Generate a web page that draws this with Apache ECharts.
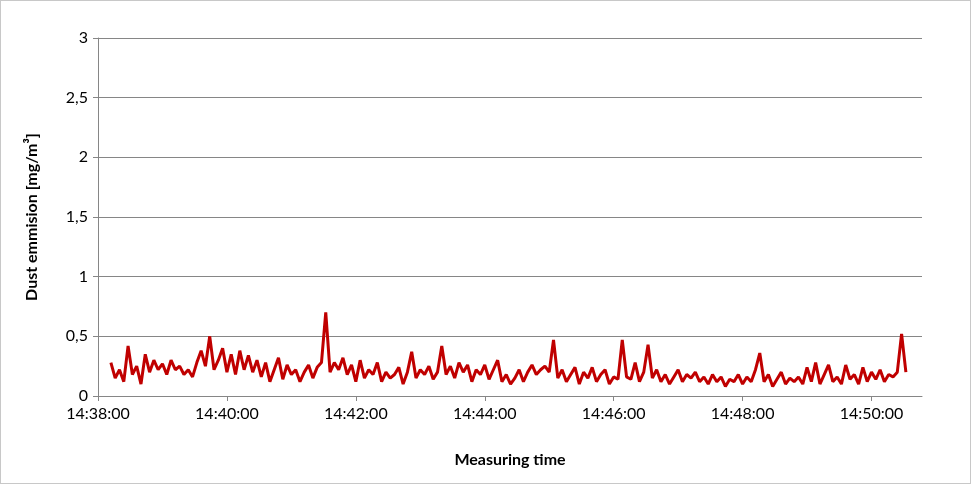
<!DOCTYPE html>
<html><head><meta charset="utf-8">
<script src="https://cdn.jsdelivr.net/npm/echarts@6/dist/echarts.min.js"></script>
<style>html,body{margin:0;padding:0;background:#fff}#c{width:971px;height:484px;box-sizing:border-box;border:1px solid #c8c8c8}</style>
</head><body><div id="c"></div>
<script>
const startSeconds = 12;      // first sample at 14:38:12
const stepSeconds = 4;
const dust = [
0.28,0.15,0.22,0.12,0.42,0.18,0.25,0.10,0.35,0.20,
0.30,0.22,0.27,0.18,0.30,0.22,0.25,0.18,0.22,0.16,
0.28,0.38,0.25,0.50,0.22,0.30,0.40,0.20,0.35,0.18,
0.38,0.22,0.34,0.20,0.30,0.16,0.28,0.12,0.22,0.32,
0.14,0.26,0.18,0.22,0.12,0.20,0.26,0.15,0.24,0.28,
0.70,0.20,0.28,0.22,0.32,0.18,0.26,0.12,0.30,0.15,
0.22,0.18,0.28,0.12,0.20,0.15,0.18,0.24,0.10,0.20,
0.37,0.15,0.22,0.18,0.25,0.14,0.20,0.42,0.18,0.25,
0.15,0.28,0.20,0.26,0.12,0.22,0.18,0.26,0.14,0.22,
0.30,0.12,0.18,0.10,0.15,0.22,0.12,0.20,0.26,0.18,
0.22,0.25,0.20,0.47,0.15,0.22,0.12,0.18,0.24,0.10,
0.20,0.15,0.24,0.12,0.18,0.22,0.10,0.16,0.14,0.47,
0.16,0.14,0.28,0.12,0.20,0.43,0.15,0.22,0.12,0.18,
0.10,0.16,0.22,0.12,0.18,0.15,0.20,0.12,0.16,0.10,
0.18,0.12,0.16,0.08,0.14,0.12,0.18,0.10,0.16,0.12,
0.22,0.36,0.12,0.18,0.08,0.14,0.20,0.10,0.15,0.12,
0.16,0.10,0.24,0.12,0.28,0.10,0.18,0.26,0.12,0.16,
0.10,0.26,0.14,0.18,0.10,0.24,0.12,0.20,0.14,0.22,
0.12,0.18,0.16,0.20,0.52,0.20];
const yTicks = ['0','0,5','1','1,5','2','2,5','3'];
const data = dust.map((v,i)=>[startSeconds+i*stepSeconds, v]);
function fmt(s){const t=14*3600+38*60+s;const h=Math.floor(t/3600),m=Math.floor(t%3600/60),sec=t%60;
 return h+':'+String(m).padStart(2,'0')+':'+String(sec).padStart(2,'0');}
const font='Lato';
const chart=echarts.init(document.getElementById('c'));
chart.setOption({
 animation:false,
 grid:{left:97,right:48,top:37,bottom:87},
 xAxis:{type:'value',min:0,max:767,interval:120,
  axisLine:{lineStyle:{color:'#868686'}},axisTick:{show:true,length:5,lineStyle:{color:'#868686'}},
  splitLine:{show:false},
  axisLabel:{formatter:fmt,color:'#000',fontFamily:font,fontSize:16,margin:10,showMaxLabel:false},
  name:'Measuring time',nameLocation:'middle',nameGap:56,
  nameTextStyle:{fontFamily:font,fontSize:16,fontWeight:'bold',color:'#000'}},
 yAxis:{type:'value',min:0,max:3,interval:0.5,
  axisLine:{show:true,lineStyle:{color:'#868686'}},axisTick:{show:true,length:5,lineStyle:{color:'#868686'}},
  splitLine:{lineStyle:{color:'#868686'}},
  axisLabel:{formatter:(v)=>yTicks[Math.round(v*2)],color:'#000',fontFamily:font,fontSize:16,margin:10},
  name:'Dust emmision [mg/m³]',nameLocation:'middle',nameGap:58,
  nameTextStyle:{fontFamily:font,fontSize:16,fontWeight:'bold',color:'#000'}},
 series:[{type:'line',data:data,showSymbol:false,lineStyle:{color:'#c00000',width:3}}]
});
</script></body></html>
